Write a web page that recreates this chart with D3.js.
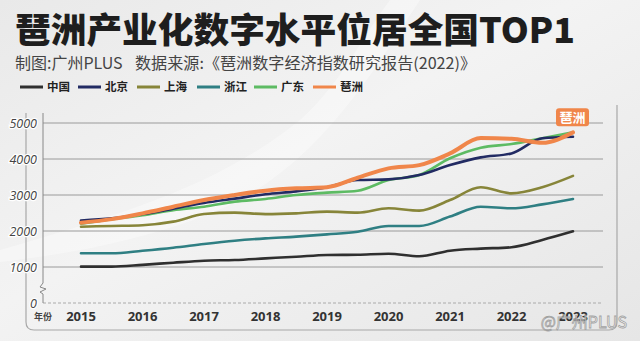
<!DOCTYPE html>
<html><head><meta charset="utf-8">
<script src="https://cdn.jsdelivr.net/npm/d3@7"></script>
<style>
html,body{margin:0;padding:0;background:#ececec;}
svg{display:block;}
</style></head>
<body>
<svg id="c" width="640" height="341"></svg>
<script>
const seriesNames = ["中国","北京","上海","浙江","广东","琶洲"];
const seriesColors = ["#2f2f2f","#222b63","#878539","#2f7f83","#5dbb63","#f0864a"];
const times = [2015,2015.5,2016,2016.5,2017,2017.5,2018,2018.5,2019,2019.5,2020,2020.5,2021,2021.5,2022,2022.5,2023];
const chinaVals    = [1010,1010,1060,1120,1175,1195,1240,1285,1333,1342,1370,1297,1453,1510,1550,1750,1990];
const beijingVals  = [2290,2350,2470,2620,2780,2900,3020,3100,3215,3415,3435,3555,3830,4045,4155,4575,4620];
const shanghaiVals = [2120,2140,2160,2260,2470,2510,2470,2490,2537,2510,2630,2565,2860,3215,3045,3215,3530];
const zhejiangVals = [1380,1380,1453,1537,1640,1730,1795,1843,1907,1980,2140,2140,2400,2675,2630,2740,2890];
const guangdongVals= [2200,2325,2440,2580,2675,2815,2890,3000,3065,3120,3415,3555,4020,4315,4415,4575,4740];
const pazhouVals   = [2230,2330,2490,2675,2860,3000,3120,3185,3215,3480,3740,3830,4155,4580,4560,4450,4740];
const allVals = [chinaVals,beijingVals,shanghaiVals,zhejiangVals,guangdongVals,pazhouVals];
const yTicks = [0,1000,2000,3000,4000,5000];
const xTickLabels = ["2015","2016","2017","2018","2019","2020","2021","2022","2023"];
const xTickVals = [2015,2016,2017,2018,2019,2020,2021,2022,2023];

const svg = d3.select("#c");
const W=640,H=341;
const defs = svg.append("defs");
const bg = defs.append("linearGradient").attr("id","bg").attr("x1","0").attr("y1","0").attr("x2","1").attr("y2","1");
bg.append("stop").attr("offset","0").attr("stop-color","#e9e9e9");
bg.append("stop").attr("offset","0.45").attr("stop-color","#f3f3f3");
bg.append("stop").attr("offset","1").attr("stop-color","#e6e6e6");
svg.append("rect").attr("width",W).attr("height",H).attr("fill","url(#bg)");
svg.append("path").attr("d","M0,250 C120,215 220,185 300,120 C340,85 360,40 390,0 L420,0 C380,60 330,150 240,200 C160,240 60,255 0,262 Z").attr("fill","#ffffff").attr("opacity",0.35);

const font = "'Noto Sans CJK SC','Noto Sans',sans-serif";
svg.append("text").attr("x",15).attr("y",43).text("琶洲产业化数字水平位居全国TOP1")
  .attr("font-family",font).attr("font-weight",900).attr("font-size",35).attr("fill","#1e1e1e")
  .attr("textLength",560).attr("lengthAdjust","spacingAndGlyphs");
svg.append("text").attr("x",15).attr("y",69).text("制图:广州PLUS")
  .attr("font-family",font).attr("font-size",16).attr("fill","#444");
svg.append("text").attr("x",135).attr("y",69).text("数据来源:《琶洲数字经济指数研究报告(2022)》")
  .attr("font-family",font).attr("font-size",15.5).attr("fill","#444")
  .attr("textLength",341).attr("lengthAdjust","spacingAndGlyphs");

const legX = [20,78,137,197,254,313];
const legend = svg.append("g");
seriesNames.forEach((n,i)=>{
  const g = legend.append("g").attr("transform",`translate(${legX[i]},87)`);
  g.append("line").attr("x1",0).attr("x2",23).attr("y1",0).attr("y2",0).attr("stroke",seriesColors[i]).attr("stroke-width",3);
  g.append("text").attr("x",27).attr("y",4.2).text(n).attr("font-family",font).attr("font-weight",700).attr("font-size",11.5).attr("fill","#222");
});

const x = d3.scaleLinear().domain([2015,2023]).range([81,573]);
const y = d3.scaleLinear().domain([0,5000]).range([303,123]);

svg.append("path").attr("d","M26,113 V322 Q26,330 34,330 H609 Q617,330 617,322 V105")
  .attr("fill","none").attr("stroke","#a8a8a8").attr("stroke-width",1.2);

const grid = svg.append("g");
yTicks.filter(t=>t>0).forEach(t=>{
  grid.append("line").attr("x1",43).attr("x2",603).attr("y1",y(t)).attr("y2",y(t)).attr("stroke","#9a9a9a").attr("stroke-width",1);
});
grid.append("line").attr("x1",43).attr("x2",603).attr("y1",y(0)).attr("y2",y(0)).attr("stroke","#aaa").attr("stroke-dasharray","3,2");
svg.append("path").attr("d",`M43,113 V283 L40,287 L46,289 L40,292 L43,294 V303`).attr("fill","none").attr("stroke","#888").attr("stroke-width",1);

yTicks.forEach(t=>{
  svg.append("text").attr("x",37).attr("y",y(t)+4.5).attr("text-anchor","end").text(t)
    .attr("font-family","'Open Sans',sans-serif").attr("font-style","italic").attr("font-size",12.5)
    .attr("fill","#444").attr("stroke","#fff").attr("stroke-width",2.5).attr("paint-order","stroke");
});
svg.append("text").attr("x",43).attr("y",320).attr("text-anchor","middle").text("年份").attr("font-family",font).attr("font-size",9).attr("font-weight",700).attr("fill","#444");
xTickVals.forEach((v,i)=>{
  svg.append("text").attr("x",x(v)).attr("y",321).attr("text-anchor","middle").text(xTickLabels[i])
    .attr("font-family","'Open Sans',sans-serif").attr("font-weight",700).attr("font-size",13).attr("fill","#333");
});

const line = d3.line().x((d,i)=>x(times[i])).y(d=>y(d)).curve(d3.curveMonotoneX);
const order = [0,3,2,4,1,5];
order.forEach(i=>{
  svg.append("path").attr("d",line(allVals[i])).attr("fill","none")
    .attr("stroke",seriesColors[i]).attr("stroke-width",i===5?4:2.6).attr("stroke-linecap","round").attr("stroke-linejoin","round");
});

const tx = 573, tv = pazhouVals[pazhouVals.length-1];
svg.append("rect").attr("x",tx-17).attr("y",y(tv)-24).attr("width",33).attr("height",18).attr("rx",3).attr("fill","#f0864a");
svg.append("text").attr("x",tx-0.5).attr("y",y(tv)-10).attr("text-anchor","middle").text("琶洲")
  .attr("font-family",font).attr("font-weight",700).attr("font-size",13).attr("fill","#fff");

svg.append("text").attr("x",627).attr("y",328).attr("text-anchor","end").text("@广州PLUS")
  .attr("font-family",font).attr("font-size",16).attr("fill","#ffffff").attr("stroke","#9a9a9a").attr("stroke-width",0.8).attr("opacity",0.9);
</script>
</body></html>
